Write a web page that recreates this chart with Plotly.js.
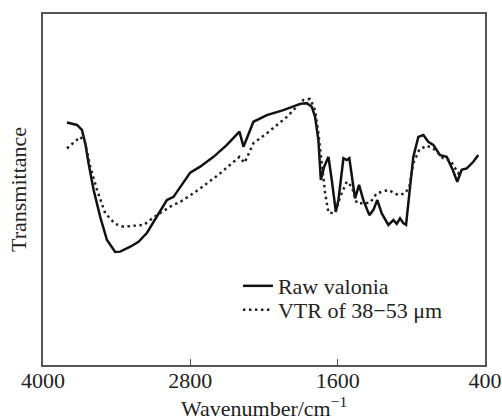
<!DOCTYPE html>
<html>
<head>
<meta charset="utf-8">
<script src="https://cdn.plot.ly/plotly-3.0.1.min.js"></script>
<style>html,body{margin:0;padding:0;background:#fff;}#chart{width:502px;height:417px;}</style>
</head>
<body>
<div id="chart"></div>
<script>
// Raw valonia (solid)
const rawWavenumber = [3805,3723,3683,3656,3629,3588,3534,3479,3412,3371,3289,3222,3154,3072,2991,2937,2869,2801,2720,2611,2502,2400,2367,2327,2286,2177,2042,1906,1851,1811,1784,1757,1737,1710,1675,1648,1615,1594,1553,1526,1505,1472,1458,1426,1391,1342,1309,1277,1241,1187,1146,1119,1092,1065,1043,1016,984,943,902,862,821,766,712,663,626,590,549,495,455];
const rawTransmittance = [69.1,68.4,67.0,63.2,57.5,49.9,42.2,35.6,32.2,32.3,33.7,35.1,37.6,42.3,47.0,47.9,51.3,54.8,56.5,59.3,62.7,66.5,62.2,66.0,69.3,71.2,72.6,74.4,74.6,73.6,70.7,64.1,52.7,56.5,59.3,52.7,43.7,47.0,58.9,58.4,58.9,50.8,47.5,51.3,47.0,42.7,44.2,47.0,43.2,39.9,41.3,40.2,41.8,40.4,39.9,48.9,59.3,65.0,65.5,63.6,62.7,59.8,59.3,55.6,52.2,55.6,56.0,57.9,59.8];
// VTR of 38-53 um (dotted)
const vtrWavenumber = [3805,3696,3656,3615,3560,3493,3412,3344,3181,3072,2964,2856,2720,2557,2400,2359,2286,2177,2014,1879,1824,1784,1757,1729,1702,1675,1621,1580,1526,1485,1444,1391,1336,1282,1187,1106,1051,1016,984,935,875,821,740,685,617,590];
const vtrTransmittance = [61.7,65.0,63.2,56.5,49.9,43.2,40.2,39.4,39.9,42.7,45.1,47.0,50.3,54.6,59.3,57.6,63.2,66.0,70.7,75.5,75.8,72.6,66.0,56.5,48.9,43.4,43.2,47.9,52.2,50.8,46.1,46.1,46.2,48.9,49.9,48.4,48.9,50.8,57.5,61.3,62.5,61.7,58.9,58.4,54.6,55.6];
const seriesNames = ["Raw valonia", "VTR of 38\u221253 \u03bcm"];
const xTickVals = [4000, 2800, 1600, 400];
const xTickText = ["4000", "2800", "1600", "400"];
const xTitle = "Wavenumber/cm<sup>\u22121</sup>";
const yTitle = "Transmittance";

const serif = "Liberation Serif";

const traces = [
  {x: rawWavenumber, y: rawTransmittance, name: seriesNames[0], mode: "lines",
   line: {color: "#111", width: 2.5}, legend: "legend"},
  {x: vtrWavenumber, y: vtrTransmittance, name: seriesNames[1], mode: "lines",
   line: {color: "#222", width: 2.5, dash: "2.5px,3.5px"}, legend: "legend2"}
];

const legendCommon = {
  xanchor: "left", yanchor: "middle", bgcolor: "rgba(0,0,0,0)", borderwidth: 0,
  font: {family: serif, size: 22, color: "#222"}, itemwidth: 30, tracegroupgap: 0
};

const layout = {
  width: 502, height: 417,
  margin: {l: 43, r: 17, t: 14, b: 52},
  paper_bgcolor: "#fff", plot_bgcolor: "#fff",
  font: {family: serif},
  showlegend: true,
  legend: Object.assign({x: 0.441, y: 0.225}, legendCommon),
  legend2: Object.assign({x: 0.441, y: 0.157}, legendCommon),
  xaxis: {
    range: [4000, 400], tickvals: xTickVals, ticktext: xTickText,
    ticks: "inside", ticklen: 6, tickwidth: 1.5, tickcolor: "#555",
    ticklabelstandoff: -5,
    showline: true, mirror: true, linecolor: "#555", linewidth: 1.8,
    showgrid: false, zeroline: false,
    tickfont: {family: serif, size: 22, color: "#222"},
    automargin: false
  },
  yaxis: {
    range: [0, 100], showticklabels: false, ticks: "",
    showline: true, mirror: true, linecolor: "#555", linewidth: 1.8,
    showgrid: false, zeroline: false,
    title: {text: yTitle, font: {family: serif, size: 22, color: "#222"}, standoff: 8},
    automargin: false
  },
  annotations: [{
    text: xTitle, xref: "paper", yref: "paper", x: 0.5, y: 0,
    xanchor: "center", yanchor: "middle", yshift: -42, showarrow: false,
    font: {family: serif, size: 22, color: "#222"}
  }]
};

Plotly.newPlot("chart", traces, layout, {displayModeBar: false, staticPlot: true});
</script>
</body>
</html>
